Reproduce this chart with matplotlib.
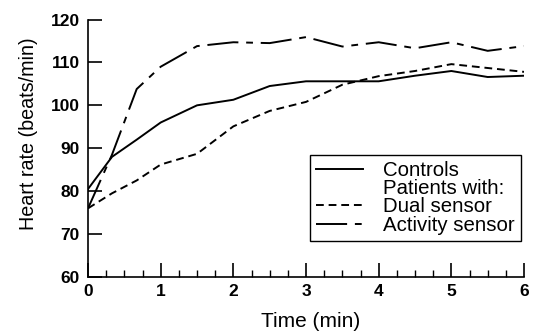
import matplotlib
matplotlib.use("Agg")
import matplotlib.pyplot as plt
from matplotlib.lines import Line2D
from matplotlib.ticker import MultipleLocator

# time points (min)
time_min = [0, 0.33, 0.67, 1, 1.5, 2, 2.5, 3, 3.5, 4, 4.5, 5, 5.5, 6]

controls = [80.5, 88, 92, 96, 100, 101.3, 104.5, 105.6, 105.6, 105.6, 106.9, 108, 106.6, 106.9]
dual_sensor = [76, 79.5, 82.5, 86.2, 88.7, 95.1, 98.7, 100.8, 104.8, 106.8, 108, 109.6, 108.7, 107.8]
activity_sensor = [76, 88.5, 103.8, 109, 113.8, 114.7, 114.5, 115.9, 113.7, 114.7, 113.3, 114.7, 112.7, 113.8]

legend_labels = ["Controls", "Patients with:", "Dual sensor", "Activity sensor"]

plt.rcParams['font.family'] = ['Liberation Sans', 'DejaVu Sans']

fig = plt.figure(figsize=(5.41, 3.34), dpi=100)
ax = fig.add_axes([0.1627, 0.1707, 0.8059, 0.7709])

lw = 1.4
dash_style = (0, (4, 2.5))
dashdot_style = (0, (16, 4, 3.5, 4))
ax.plot(time_min, controls, color='black', linewidth=lw, linestyle='-')
ax.plot(time_min, dual_sensor, color='black', linewidth=lw, linestyle=dash_style)
ax.plot(time_min, activity_sensor, color='black', linewidth=lw, linestyle=dashdot_style)

ax.set_xlim(0, 6)
ax.set_ylim(60, 120)
ax.xaxis.set_major_locator(MultipleLocator(1))
ax.xaxis.set_minor_locator(MultipleLocator(0.25))
ax.yaxis.set_major_locator(MultipleLocator(10))

for side in ['top', 'right']:
    ax.spines[side].set_visible(False)
for side in ['left', 'bottom']:
    ax.spines[side].set_linewidth(1.2)

ax.tick_params(axis='x', which='major', direction='in', length=10, width=1.2, pad=5, labelsize=12.5)
ax.tick_params(axis='x', which='minor', direction='in', length=5, width=1.0)
ax.tick_params(axis='y', which='major', direction='in', length=10, width=1.2, pad=6, labelsize=12.5)
for lbl in ax.get_xticklabels() + ax.get_yticklabels():
    lbl.set_fontweight('bold')

ax.set_xlabel('Time (min)', fontsize=15)
ax.set_ylabel('Heart rate (beats/min)', fontsize=14.2)
ax.xaxis.set_label_coords(0.511, -0.135)
ax.yaxis.set_label_coords(-0.115, 0.555)

handles = [
    Line2D([], [], color='black', linewidth=lw, linestyle='-'),
    Line2D([], [], color='none'),
    Line2D([], [], color='black', linewidth=lw, linestyle=dash_style),
    Line2D([], [], color='black', linewidth=lw, linestyle=dashdot_style),
]
leg = ax.legend(handles, legend_labels, loc='lower right', bbox_to_anchor=(0.993, 0.14),
                borderaxespad=0, fancybox=False, edgecolor='black', fontsize=14.7,
                handlelength=2.3, handletextpad=1.0, labelspacing=-0.03, borderpad=0.3,
                framealpha=1)
leg.get_frame().set_linewidth(1.0)

fig.savefig('out.png', dpi=100)
